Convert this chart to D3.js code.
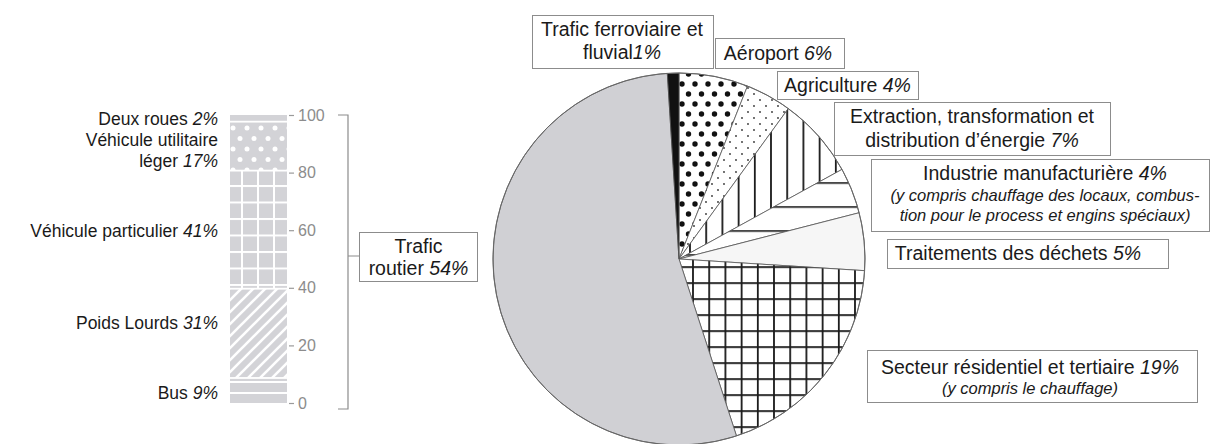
<!DOCTYPE html>
<html><head><meta charset="utf-8">
<script src="https://cdn.jsdelivr.net/npm/d3@7"></script>
<style>body{margin:0;background:#fff;} svg{display:block;font-family:"Liberation Sans",Arial,sans-serif;}</style>
</head><body><svg id="c" width="1210" height="444"></svg>
<script>
// ---------- DATA ----------
const pieCategories = ["Aéroport","Agriculture","Extraction, transformation et distribution d’énergie","Industrie manufacturière","Traitements des déchets","Secteur résidentiel et tertiaire","Trafic routier","Trafic ferroviaire et fluvial"];
const pieValues = [6,4,7,4,5,19,54,1];
const pieLabelLines = [["Aéroport"],["Agriculture"],["Extraction, transformation et","distribution d’énergie"],["Industrie manufacturière"],["Traitements des déchets"],["Secteur résidentiel et tertiaire"],null,["Trafic ferroviaire et","fluvial"]];
const pieSubLines = [[],[],[],["(y compris chauffage des locaux, combus-","tion pour le process et engins spéciaux)"],[],["(y compris le chauffage)"],[],[]];
const barCategories = ["Bus","Poids Lourds","Véhicule particulier","Véhicule utilitaire léger","Deux roues"];
const barValues = [9,31,41,17,2];
const barLabelLines = [["Bus"],["Poids Lourds"],["Véhicule particulier"],["Véhicule utilitaire","léger"],["Deux roues"]];
const barTicks = [0,20,40,60,80,100];
const routierLines = ["Trafic","routier"];
const routierValue = 54;

// ---------- SETUP ----------
const svg = d3.select("#c");
svg.append("rect").attr("width",1210).attr("height",444).attr("fill","#fff");
const defs = svg.append("defs");
const GREY = "#d3d3d7";

function pat(id, attrs){
  const p = defs.append("pattern").attr("id",id).attr("patternUnits","userSpaceOnUse");
  Object.entries(attrs).forEach(([k,v])=>p.attr(k,v));
  return p;
}
// pie patterns
let p = pat("pAero",{x:0,y:0,width:13,height:20});
p.append("rect").attr("width",13).attr("height",20).attr("fill","#fff");
[[3,5],[9.5,15],[-3.5,15],[16,5]].forEach(c=>p.append("circle").attr("cx",c[0]).attr("cy",c[1]).attr("r",2.7).attr("fill","#111"));

p = pat("pAgri",{x:0,y:0,width:12,height:12});
p.append("rect").attr("width",12).attr("height",12).attr("fill","#fff");
[[3,3],[9,9]].forEach(c=>p.append("circle").attr("cx",c[0]).attr("cy",c[1]).attr("r",0.9).attr("fill","#333"));

p = pat("pExtr",{x:787.7,y:0,width:16.2,height:20});
p.append("rect").attr("width",16.2).attr("height",20).attr("fill","#fff");
p.append("rect").attr("x",0).attr("width",1.8).attr("height",20).attr("fill","#1a1a1a");

p = pat("pIndu",{x:0,y:187.2,width:20,height:24});
p.append("rect").attr("width",20).attr("height",24).attr("fill","#fff");
p.append("rect").attr("y",0).attr("width",20).attr("height",1.6).attr("fill","#1a1a1a");

p = pat("pResi",{x:693.5,y:279.2,width:16.2,height:16});
p.append("rect").attr("width",16.2).attr("height",16).attr("fill","#fff");
p.append("rect").attr("width",1.8).attr("height",16).attr("fill","#1a1a1a");
p.append("rect").attr("width",16.2).attr("height",1.8).attr("fill","#1a1a1a");

// bar patterns
p = pat("bBus",{x:0,y:403,width:20,height:11});
p.append("rect").attr("width",20).attr("height",11).attr("fill","#fff");
p.append("rect").attr("y",2).attr("width",20).attr("height",9).attr("fill",GREY);

p = pat("bPL",{x:230,y:0,width:12,height:12});
p.append("rect").attr("width",12).attr("height",12).attr("fill",GREY);
p.append("path").attr("d","M0,12 L12,0 M-3,3 L3,-3 M9,15 L15,9").attr("stroke","#fff").attr("stroke-width",2.6);

p = pat("bVP",{x:225,y:185,width:16,height:16.5});
p.append("rect").attr("width",16).attr("height",16.5).attr("fill",GREY);
p.append("rect").attr("width",2).attr("height",16.5).attr("fill","#fff");
p.append("rect").attr("width",16).attr("height",2).attr("fill","#fff");

p = pat("bVUL",{x:226,y:123,width:14,height:21});
p.append("rect").attr("width",14).attr("height",21).attr("fill",GREY);
[[7,5],[0,15.5],[14,15.5]].forEach(c=>p.append("circle").attr("cx",c[0]).attr("cy",c[1]).attr("r",2.5).attr("fill","#fff"));

const pieFills = ["url(#pAero)","url(#pAgri)","url(#pExtr)","url(#pIndu)","#f6f6f6","url(#pResi)","#d0d0d4","#111"];
const barFills = ["url(#bBus)","url(#bPL)","url(#bVP)","url(#bVUL)",GREY];

// ---------- PIE ----------
const cx = 679, cy = 259, R = 186;
const arcs = d3.pie().sort(null).value(d=>d)(pieValues);
const arcGen = d3.arc().innerRadius(0).outerRadius(R);
const gp = svg.append("g").attr("transform",`translate(${cx},${cy})`);
gp.selectAll("path").data(arcs).join("path")
  .attr("d",arcGen).attr("fill",(d,i)=>pieFills[i])
  .attr("stroke","#555").attr("stroke-width",0.8).attr("stroke-linejoin","round");
gp.append("circle").attr("r",R).attr("fill","none").attr("stroke","#666").attr("stroke-width",1);

// ---------- PIE LABEL BOXES ----------
const boxLayout = [
  {x:715,y:38,w:129,h:30,cx:778,ly:[53],sy:[]},
  {x:777,y:71,w:141,h:28,cx:847.5,ly:[85],sy:[]},
  {x:834,y:102,w:276,h:53,cx:972,ly:[116,140],sy:[]},
  {x:871,y:159,w:338,h:72,cx:1045,ly:[172.5],sy:[195,215]},
  {x:887,y:239,w:281,h:29,cx:1018,ly:[253],sy:[]},
  {x:867,y:350,w:330,h:52,cx:1030,ly:[367],sy:[388]},
  null,
  {x:532,y:15,w:181,h:53,cx:622,ly:[29,52],sy:[]}
];
pieValues.forEach((v,i)=>{
  const b = boxLayout[i]; if(!b) return;
  const g = svg.append("g");
  g.append("rect").attr("x",b.x+0.5).attr("y",b.y+0.5).attr("width",b.w).attr("height",b.h)
    .attr("fill","#fff").attr("stroke","#8c8c8c").attr("stroke-width",1);
  const lines = pieLabelLines[i];
  lines.forEach((ln,j)=>{
    const t = g.append("text").attr("x",b.cx).attr("y",b.ly[j]).attr("text-anchor","middle")
      .attr("dominant-baseline","central").attr("font-size",19.5).attr("fill","#1a1a1a");
    t.append("tspan").text(ln);
    if(j===lines.length-1){
      t.append("tspan").attr("font-style","italic").text((i===7?"":" ")+v+"%");
    }
  });
  pieSubLines[i].forEach((ln,j)=>{
    g.append("text").attr("x",b.cx).attr("y",b.sy[j]).attr("text-anchor","middle")
      .attr("dominant-baseline","central").attr("font-size",16.5).attr("font-style","italic")
      .attr("fill","#1a1a1a").text(ln);
  });
});

// ---------- STACKED BAR ----------
const y = d3.scaleLinear().domain([0,100]).range([403,115]);
const bx = 230, bw = 57;
let cum = 0;
const segs = barValues.map((v,i)=>{const s={i,v,y0:cum,y1:cum+v}; cum+=v; return s;});
const gb = svg.append("g");
gb.selectAll("rect").data(segs).join("rect")
  .attr("x",bx).attr("width",bw)
  .attr("y",d=>y(d.y1)+(d.i===segs.length-1?0:1.8))
  .attr("height",d=>y(d.y0)-y(d.y1)-(d.i===segs.length-1?0:1.8))
  .attr("fill",d=>barFills[d.i]);

// axis
const ax = svg.append("g").attr("transform",`translate(${bx+bw},0)`)
  .call(d3.axisRight(y).tickValues(barTicks).tickSize(7).tickPadding(4));
ax.select(".domain").remove();
ax.selectAll(".tick line").attr("stroke","#9a9a9a").attr("x1",2).attr("stroke-width",1.2);
ax.selectAll(".tick text").attr("fill","#8c8c8c").attr("font-size",16)
  .attr("font-family","'Liberation Sans',Arial,sans-serif");

// bar labels
const labelOffsets = [[3],[-9],[2],[-5,15.5],[1.5]];
segs.forEach(s=>{
  const lines = barLabelLines[s.i];
  const mid = y((s.y0+s.y1)/2);
  lines.forEach((ln,j)=>{
    const t = svg.append("text").attr("x",218).attr("y",mid+labelOffsets[s.i][j])
      .attr("text-anchor","end").attr("dominant-baseline","central")
      .attr("font-size",17.5).attr("fill","#1a1a1a");
    t.append("tspan").text(ln);
    if(j===lines.length-1) t.append("tspan").attr("font-style","italic").text(" "+s.v+"%");
  });
});

// bracket
const brTop = y(100), brBot = y(0)+6;
svg.append("path").attr("d",`M338,${brTop} H348 V${brBot} H338 M348,256 H359`)
  .attr("fill","none").attr("stroke","#8c8c8c").attr("stroke-width",1.2);
svg.append("rect").attr("x",359.5).attr("y",232.5).attr("width",118).attr("height",49)
  .attr("fill","#fff").attr("stroke","#8c8c8c");
routierLines.forEach((ln,j)=>{
  const t = svg.append("text").attr("x",418.5).attr("y",[246,268][j]).attr("text-anchor","middle")
    .attr("dominant-baseline","central").attr("font-size",19.5).attr("fill","#1a1a1a");
  t.append("tspan").text(ln);
  if(j===routierLines.length-1) t.append("tspan").attr("font-style","italic").text(" "+routierValue+"%");
});
</script></body></html>
